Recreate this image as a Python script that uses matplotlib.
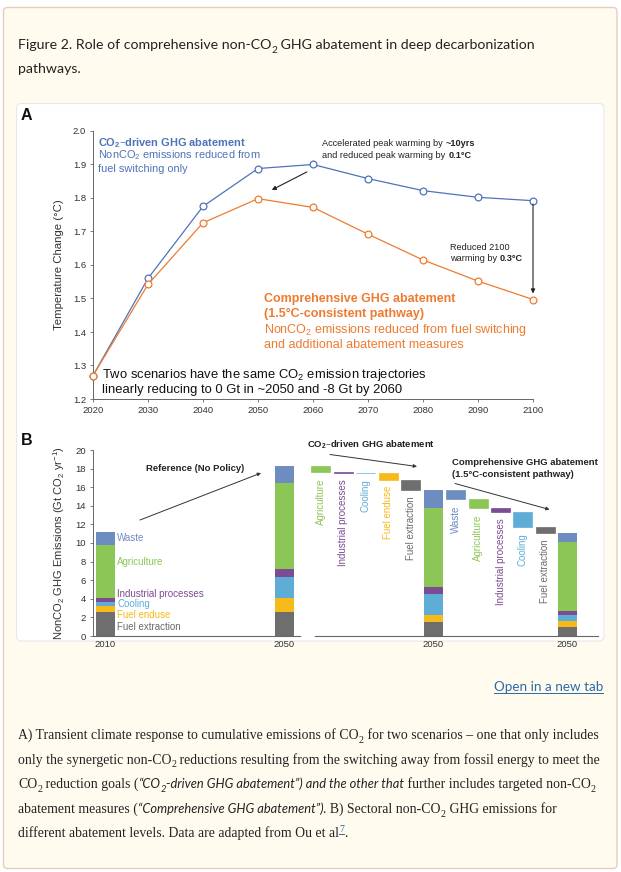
import matplotlib
matplotlib.use('Agg')
import matplotlib.pyplot as plt
from matplotlib.patches import FancyBboxPatch

plt.rcParams['mathtext.default'] = 'regular'
SANS = 'Liberation Sans'

# ---------------- data ----------------
years = [2020, 2030, 2040, 2050, 2060, 2070, 2080, 2090, 2100]
temp_co2_driven = [1.27, 1.56, 1.775, 1.888, 1.90, 1.858, 1.822, 1.802, 1.792]
temp_comprehensive = [1.27, 1.542, 1.726, 1.798, 1.772, 1.692, 1.615, 1.552, 1.497]

sectors = ['Fuel extraction', 'Fuel enduse', 'Cooling', 'Industrial processes', 'Agriculture', 'Waste']
em_2010 = [2.55, 0.70, 0.37, 0.42, 5.75, 1.40]
em_2050_ref = [2.62, 1.43, 2.29, 0.86, 9.20, 1.90]
em_2050_co2 = [1.54, 0.72, 2.23, 0.82, 8.50, 1.90]
em_2050_comp = [0.93, 0.72, 0.58, 0.42, 7.50, 0.93]
steps_co2 = ['Agriculture', 'Industrial processes', 'Cooling', 'Fuel enduse', 'Fuel extraction']
steps_comp = ['Waste', 'Agriculture', 'Industrial processes', 'Cooling', 'Fuel extraction']
bar_year_labels = ['2010', '2050', '2050', '2050']

# ---------------- styles ----------------
BLUE = '#4f73b8'
ORANGE = '#ee7b30'
sector_colors = {'Fuel extraction': '#6e6e6e', 'Fuel enduse': '#f8b91b', 'Cooling': '#5dadd6',
                 'Industrial processes': '#7d4b91', 'Agriculture': '#8cc657', 'Waste': '#6d8cc0'}
label_colors = dict(sector_colors)
label_colors['Fuel extraction'] = '#6a6a6a'

W, H = 621, 872
fig = plt.figure(figsize=(W / 100, H / 100), dpi=100)
fig.patch.set_facecolor('white')
bg = fig.add_axes([0, 0, 1, 1], zorder=-5)
bg.set_xlim(0, W)
bg.set_ylim(H, 0)
bg.axis('off')
R = fig.canvas.get_renderer()

# card and figure box
bg.add_patch(FancyBboxPatch((3.5, 7.5), 613.5, 861, boxstyle='round,pad=0,rounding_size=4',
                            facecolor='#fffcef', edgecolor='#e9cbbd', lw=1.0))
bg.add_patch(FancyBboxPatch((16.5, 103.5), 587.5, 537.5, boxstyle='round,pad=0,rounding_size=5',
                            facecolor='white', edgecolor='#e8e8e8', lw=0.8))

ITAL_SCALE = 0.93


def tw(s, **kw):
    t1 = bg.text(0, 0, s + '|', **kw)
    t2 = bg.text(0, 0, '|', **kw)
    w = t1.get_window_extent(R).width - t2.get_window_extent(R).width
    t1.remove(); t2.remove()
    return w


def run_props(kind, size, fr, fi, color):
    if kind == 'r':
        return dict(family=fr, fontsize=size, color=color), 0
    if kind == 'i':
        return dict(family=fi, fontsize=size * ITAL_SCALE, style='italic', color=color), 0
    if kind == 'sub':
        return dict(family=fr, fontsize=size * 0.72, color=color), size * 1.389 * 0.28
    if kind == 'isub':
        return dict(family=fi, fontsize=size * 0.68, style='italic', color=color), size * 1.389 * 0.28
    if kind == 'sup':
        return dict(family=fr, fontsize=size * 0.72, color='#2a6aa8'), -size * 1.389 * 0.38
    return dict(family=fr, fontsize=size, color=color), 0


def runs_width(runs, size, fr, fi):
    tot = 0
    for s, k in runs:
        p, _ = run_props(k, size, fr, fi, 'k')
        tot += tw(s, **p)
    return tot


def draw_runs(x, y, runs, size, fr, fi, color='#222222'):
    for s, k in runs:
        p, dy = run_props(k, size, fr, fi, color)
        bg.text(x, y + dy, s, va='baseline', ha='left', **p)
        w = tw(s, **p)
        if k == 'sup':
            bg.plot([x, x + w], [y + dy + 1.5, y + dy + 1.5], color='#2a6aa8', lw=0.7)
        x += w
    return x


# ---------------- title ----------------
TF = 'Lato'
title1 = [('Figure 2. Role of comprehensive non-CO', 'r'), ('2', 'sub'),
          (' GHG abatement in deep decarbonization', 'r')]
tsize = 10.0 * (519 / runs_width(title1, 10.0, TF, TF))
draw_runs(18, 49, title1, tsize, TF, TF, '#222222')
draw_runs(18, 73, [('pathways.', 'r')], tsize, TF, TF, '#222222')

# link
lk = 'Open in a new tab'
lw_ = tw(lk, family=TF, fontsize=tsize * 0.95)
bg.text(603, 691, lk, family=TF, fontsize=tsize * 0.95, color='#2a6aa8', ha='right', va='baseline')
bg.plot([603 - lw_, 603], [693, 693], color='#2a6aa8', lw=0.7)

# ---------------- caption ----------------
CF, CI = 'Liberation Serif', 'Lato'
cap = [
    [('A) Transient climate response to cumulative emissions of CO', 'r'), ('2', 'sub'),
     (' for two scenarios \u2013 one that only includes', 'r')],
    [('only the synergetic non-CO', 'r'), ('2', 'sub'),
     (' reductions resulting from the switching away from fossil energy to meet the', 'r')],
    [('CO', 'r'), ('2', 'sub'), (' reduction goals (', 'r'), ('\u201cCO', 'i'), ('2', 'isub'),
     ('-driven GHG abatement\u201d) and the other that', 'i'),
     (' further includes targeted non-CO', 'r'), ('2', 'sub')],
    [('abatement measures (', 'r'), ('\u201cComprehensive GHG abatement\u201d)', 'i'),
     ('. B) Sectoral non-CO', 'r'), ('2', 'sub'), (' GHG emissions for', 'r')],
    [('different abatement levels. Data are adapted from Ou et al', 'r'), ('7', 'sup'), ('.', 'r')],
]
csize = 10.0 * (579 / runs_width(cap[0], 10.0, CF, CI))
for i, line in enumerate(cap):
    draw_runs(18, 739 + i * 24.6, line, csize, CF, CI, '#222222')

# ---------------- panel A ----------------
axA = fig.add_axes([93 / W, 1 - 399 / H, 440 / W, 268 / H])
axA.patch.set_alpha(0)
axA.plot(years, temp_co2_driven, color=BLUE, lw=0.9, marker='o', ms=4.9, mfc='white',
         mec=BLUE, mew=0.9, clip_on=False, zorder=3)
axA.plot(years, temp_comprehensive, color=ORANGE, lw=0.9, marker='o', ms=4.9, mfc='white',
         mec=ORANGE, mew=0.9, clip_on=False, zorder=3)
axA.set_xlim(2020, 2100)
axA.set_ylim(1.2, 2.0)
axA.set_xticks(years)
axA.set_yticks([1.2, 1.3, 1.4, 1.5, 1.6, 1.7, 1.8, 1.9, 2.0])
axA.set_yticklabels(['1.2', '1.3', '1.4', '1.5', '1.6', '1.7', '1.8', '1.9', '2.0'])
for sp in ['top', 'right']:
    axA.spines[sp].set_visible(False)
for sp in ['left', 'bottom']:
    axA.spines[sp].set_color('#666666')
    axA.spines[sp].set_linewidth(0.7)
axA.tick_params(axis='both', direction='out', length=2.5, width=0.6, color='#666666',
                labelsize=6.8, labelcolor='#333333', pad=2.5)
for t in axA.get_xticklabels() + axA.get_yticklabels():
    t.set_family(SANS)
axA.set_ylabel('Temperature Change (\u00b0C)', family=SANS, fontsize=8.2, color='#333333', labelpad=6)

AP = dict(arrowstyle='-|>', lw=0.8, color='#222222', mutation_scale=6, shrinkA=0, shrinkB=0)
axA.annotate('', xy=(2052.5, 1.824), xytext=(2058.9, 1.878), arrowprops=AP)
axA.annotate('', xy=(2100, 1.515), xytext=(2100, 1.782), arrowprops=AP)

# panel A texts
bg.text(21, 115, 'A', family=SANS, weight='bold', fontsize=11.5, va='center', ha='left', color='#111111')
bg.text(98, 143, 'CO$_2$\u2013driven GHG abatement', family=SANS, weight='bold', fontsize=7.9,
        color=BLUE, va='center')
bg.text(98, 155.5, 'NonCO$_2$ emissions reduced from', family=SANS, fontsize=7.9, color=BLUE, va='center')
bg.text(98, 168.5, 'fuel switching only', family=SANS, fontsize=7.9, color=BLUE, va='center')

x = draw_runs(322.5, 146, [('Accelerated peak warming by ', 'r')], 6.6, SANS, SANS, '#222222')
bg.text(x, 146, '~10yrs', family=SANS, weight='bold', fontsize=6.6, color='#222222', va='baseline')
x = draw_runs(322.5, 157.5, [('and reduced peak warming by ', 'r')], 6.6, SANS, SANS, '#222222')
bg.text(x, 157.5, '0.1\u00b0C', family=SANS, weight='bold', fontsize=6.6, color='#222222', va='baseline')
draw_runs(450, 249.5, [('Reduced 2100', 'r')], 6.6, SANS, SANS, '#222222')
x = draw_runs(450, 261, [('warming by ', 'r')], 6.6, SANS, SANS, '#222222')
bg.text(x, 261, '0.3\u00b0C', family=SANS, weight='bold', fontsize=6.6, color='#222222', va='baseline')

bg.text(264, 298.5, 'Comprehensive GHG abatement', family=SANS, weight='bold', fontsize=9.0,
        color=ORANGE, va='center')
bg.text(264, 313.5, '(1.5\u00b0C-consistent pathway)', family=SANS, weight='bold', fontsize=9.0,
        color=ORANGE, va='center')
bg.text(264, 329.5, 'NonCO$_2$ emissions reduced from fuel switching', family=SANS, fontsize=9.0,
        color=ORANGE, va='center')
bg.text(264, 344.5, 'and additional abatement measures', family=SANS, fontsize=9.0,
        color=ORANGE, va='center')
bg.text(101.5, 375, 'Two scenarios have the same CO$_2$ emission trajectories', family=SANS,
        fontsize=9.4, color='#111111', va='center')
bg.text(101.5, 389.5, 'linearly reducing to 0 Gt in ~2050 and -8 Gt by 2060', family=SANS,
        fontsize=9.4, color='#111111', va='center')

# ---------------- panel B ----------------
axB = fig.add_axes([93 / W, 1 - 636 / H, 505 / W, 186 / H])
axB.patch.set_alpha(0)
BW = 0.85
x_2010, x_ref = 0.0, 8.0
x_steps1 = [9.63 + i for i in range(5)]
x_co2 = 14.65
x_steps2 = [15.65 + i for i in range(5)]
x_comp = 20.63


def stacked(pos, vals):
    b = 0
    for s, v in zip(sectors, vals):
        axB.bar(pos, v, bottom=b, width=BW, color=sector_colors[s], lw=0, zorder=2)
        b += v
    return b


stacked(x_2010, em_2010)
top = stacked(x_ref, em_2050_ref)


def waterfall(top, xs, steps, before, after):
    for xp, s in zip(xs, steps):
        k = sectors.index(s)
        red = before[k] - after[k]
        axB.bar(xp, red, bottom=top - red, width=BW, color=sector_colors[s],
                edgecolor=sector_colors[s], lw=0.5, zorder=2)
        top -= red
        axB.annotate(s, (xp, top), xytext=(0, -4.5), textcoords='offset points', rotation=90,
                     ha='center', va='top', family=SANS, fontsize=7.0, color=label_colors[s])
    return top


waterfall(top, x_steps1, steps_co2, em_2050_ref, em_2050_co2)
top2 = stacked(x_co2, em_2050_co2)
waterfall(top2, x_steps2, steps_comp, em_2050_co2, em_2050_comp)
stacked(x_comp, em_2050_comp)

axB.set_xlim(-0.55, 22.0)
axB.set_ylim(0, 20)
axB.set_yticks(range(0, 21, 2))
axB.set_xticks([x_2010, x_ref, x_co2, x_comp])
axB.set_xticklabels(bar_year_labels)
for sp in ['top', 'right', 'bottom']:
    axB.spines[sp].set_visible(False)
axB.spines['left'].set_color('#666666')
axB.spines['left'].set_linewidth(0.7)
axB.tick_params(axis='y', direction='out', length=2.5, width=0.6, color='#666666',
                labelsize=6.8, labelcolor='#333333', pad=2.5)
axB.tick_params(axis='x', length=0, labelsize=6.8, labelcolor='#333333', pad=3)
for t in axB.get_xticklabels() + axB.get_yticklabels():
    t.set_family(SANS)
axB.axhline(0, xmin=0, xmax=(300 - 93) / 505, color='#666666', lw=0.8, clip_on=False)
axB.axhline(0, xmin=(315 - 93) / 505, xmax=1, color='#666666', lw=0.8, clip_on=False)
axB.set_ylabel('NonCO$_2$ GHG Emissions (Gt CO$_2$ yr$^{-1}$)', family=SANS, fontsize=8.0,
               color='#333333', labelpad=6)

# legend-like labels next to the 2010 bar
leg_y = {'Waste': 537.5, 'Agriculture': 561.5, 'Industrial processes': 594, 'Cooling': 604,
         'Fuel enduse': 614.5, 'Fuel extraction': 626.5}
for s in sectors:
    bg.text(117, leg_y[s], s, family=SANS, fontsize=7.0, color=label_colors[s], va='center')

bg.text(21, 440, 'B', family=SANS, weight='bold', fontsize=11.5, va='center', ha='left', color='#111111')
bg.text(146, 468.5, 'Reference (No Policy)', family=SANS, weight='bold', fontsize=6.8,
        color='#222222', va='center')
bg.text(307, 445, 'CO$_2$\u2013driven GHG abatement', family=SANS, weight='bold', fontsize=6.8,
        color='#222222', va='center')
bg.text(452.5, 462.5, 'Comprehensive GHG abatement', family=SANS, weight='bold', fontsize=6.8,
        color='#222222', va='center')
bg.text(452.5, 474.5, '(1.5\u00b0C-consistent pathway)', family=SANS, weight='bold', fontsize=6.8,
        color='#222222', va='center')
AP2 = dict(arrowstyle='-|>', lw=0.7, color='#333333', mutation_scale=5, shrinkA=0, shrinkB=0)
bg.annotate('', xy=(261, 473), xytext=(140, 520), arrowprops=AP2)
bg.annotate('', xy=(417, 466.5), xytext=(330, 454.5), arrowprops=AP2)
bg.annotate('', xy=(549.5, 509.5), xytext=(455, 483.5), arrowprops=AP2)

fig.savefig('out.png', dpi=100, facecolor='white')
